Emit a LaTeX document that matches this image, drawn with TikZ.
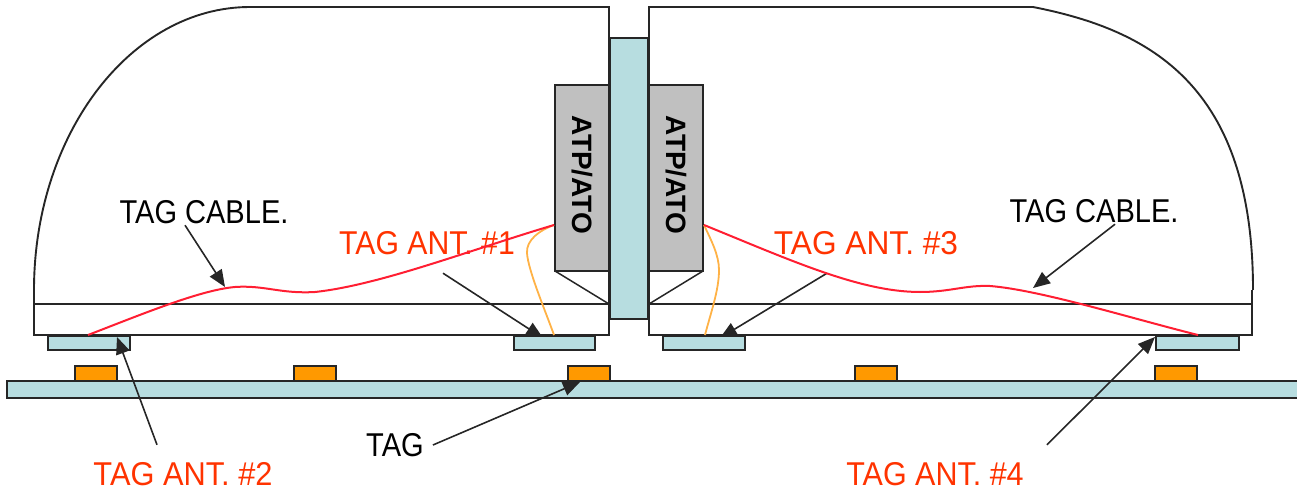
\documentclass[tikz,border=0pt]{standalone}
\usepackage{fontspec}
\setmainfont{Liberation Sans}
\usetikzlibrary{arrows.meta}
\definecolor{paleblue}{RGB}{183,221,224}
\definecolor{tagorange}{RGB}{255,153,0}
\definecolor{wireorange}{RGB}{255,178,70}
\definecolor{antred}{RGB}{255,51,0}
\definecolor{cablered}{RGB}{255,30,50}
\definecolor{boxgray}{RGB}{192,192,192}
\tikzset{
  body/.style={draw=black!85, line width=1.9pt},
  panel/.style={body, fill=paleblue},
  tagbox/.style={body, fill=tagorange},
  atpbox/.style={body, fill=boxgray},
  atplbl/.style={rotate=-90, font=\fontsize{28}{30}\bfseries, inner sep=0pt},
  cable/.style={draw=cablered, line width=2pt},
  wire/.style={draw=wireorange, line width=1.8pt},
  leader/.style={draw=black!85, line width=1.6pt, -{Triangle[length=17pt, width=14pt]}},
  lbl/.style={font=\fontsize{33}{36}\selectfont, xscale=0.88, inner sep=0pt, minimum height=26pt},
  antlbl/.style={lbl, text=antred},
}
\begin{document}
\begin{tikzpicture}[x=1pt,y=-1pt]
  \useasboundingbox (0,0) rectangle (1297,494);

  % Car bodies
  \draw[body] (34,290) .. controls (34,134) and (131,7) .. (250,7) -- (609,7) -- (609,335) -- (34,335) -- cycle;
  \draw[body] (34,304) -- (609,304);
  \draw[body] (1253,290) .. controls (1253,85) and (1150,30) .. (1033,7) -- (649,7) -- (649,335) -- (1252,335) -- (1252,290);
  \draw[body] (649,304) -- (1252,304);

  % Coupling and ATP/ATO racks
  \draw[panel] (610,38) rectangle (648,319);
  \draw[atpbox] (555,85) rectangle (609,271);
  \draw[atpbox] (649,85) rectangle (703,271);
  \draw[body, line width=1.5pt] (555,271) -- (609,304);
  \draw[body, line width=1.5pt] (703,271) -- (649,304);
  \node[atplbl] (atpL) at (582,175) {ATP/ATO};
  \node[atplbl] (atpR) at (676,175) {ATP/ATO};

  % Labels
  \node[lbl] (cableL) at (204,212) {TAG CABLE.};
  \node[lbl] (cableR) at (1094,211) {TAG CABLE.};
  \node[antlbl, xscale=1.04] (antA) at (427,243) {TAG ANT. \#1};
  \node[antlbl, xscale=1.09] (antC) at (866,243) {TAG ANT. \#3};
  \node[antlbl, xscale=1.06] (antB) at (183,474) {TAG ANT. \#2};
  \node[antlbl, xscale=1.05] (antD) at (935,474) {TAG ANT. \#4};
  \node[lbl] (tagT) at (395,445) {TAG};

  % These two run under the antenna boxes
  \draw[leader] ([xshift=16pt,yshift=-17pt]antA.south) -- (543,338);
  \draw[leader] ([xshift=-39pt,yshift=-17pt]antC.south) -- (720,338);

  % Antennas under the cars
  \foreach \xa/\xb in {48/130, 514/595, 663/745, 1156/1239}{
    \draw[panel] (\xa,336) rectangle (\xb,350);
  }

  % Track and tags
  \draw[panel] (1297,381) -- (7,381) -- (7,398) -- (1297,398);
  \foreach \xa in {75, 294, 568, 855, 1155}{
    \draw[tagbox] (\xa,366) rectangle +(42,15);
  }

  % Cable ends
  \coordinate (rackL) at (554,225);
  \coordinate (rackR) at (704,225);
  \coordinate (ant1) at (554,335);
  \coordinate (ant2) at (88,335);
  \coordinate (ant3) at (705,335);
  \coordinate (ant4) at (1198,335);

  \draw[wire] (ant1) .. controls (545,310) and (528,270) .. (527,253) .. controls (526,240) and (540,230) .. (rackL);
  \draw[wire] (ant3) .. controls (711,312) and (719,290) .. (719,270) .. controls (719,255) and (711,240) .. (rackR);
  \draw[cable] (ant2) .. controls (140,315) and (200,290) .. (235,287)
    .. controls (265,285) and (280,294) .. (315,292) .. controls (380,285) and (470,250) .. (rackL);
  \draw[cable] (rackR) .. controls (790,260) and (860,292) .. (920,292)
    .. controls (950,292) and (965,285) .. (990,286) .. controls (1040,290) and (1130,318) .. (ant4);

  % Leaders
  \draw[leader] ([xshift=-19pt]cableL.south) -- (225,287);
  \draw[leader] ([xshift=21pt]cableR.south) -- (1033,288);
  \draw[leader] ([xshift=-26pt,yshift=16pt]antB.north) -- (117,337);
  \draw[leader] ([xshift=112pt,yshift=16pt]antD.north) -- (1155,337);
  \draw[leader] ([xshift=9pt]tagT.east) -- (580,382);
\end{tikzpicture}
\end{document}
